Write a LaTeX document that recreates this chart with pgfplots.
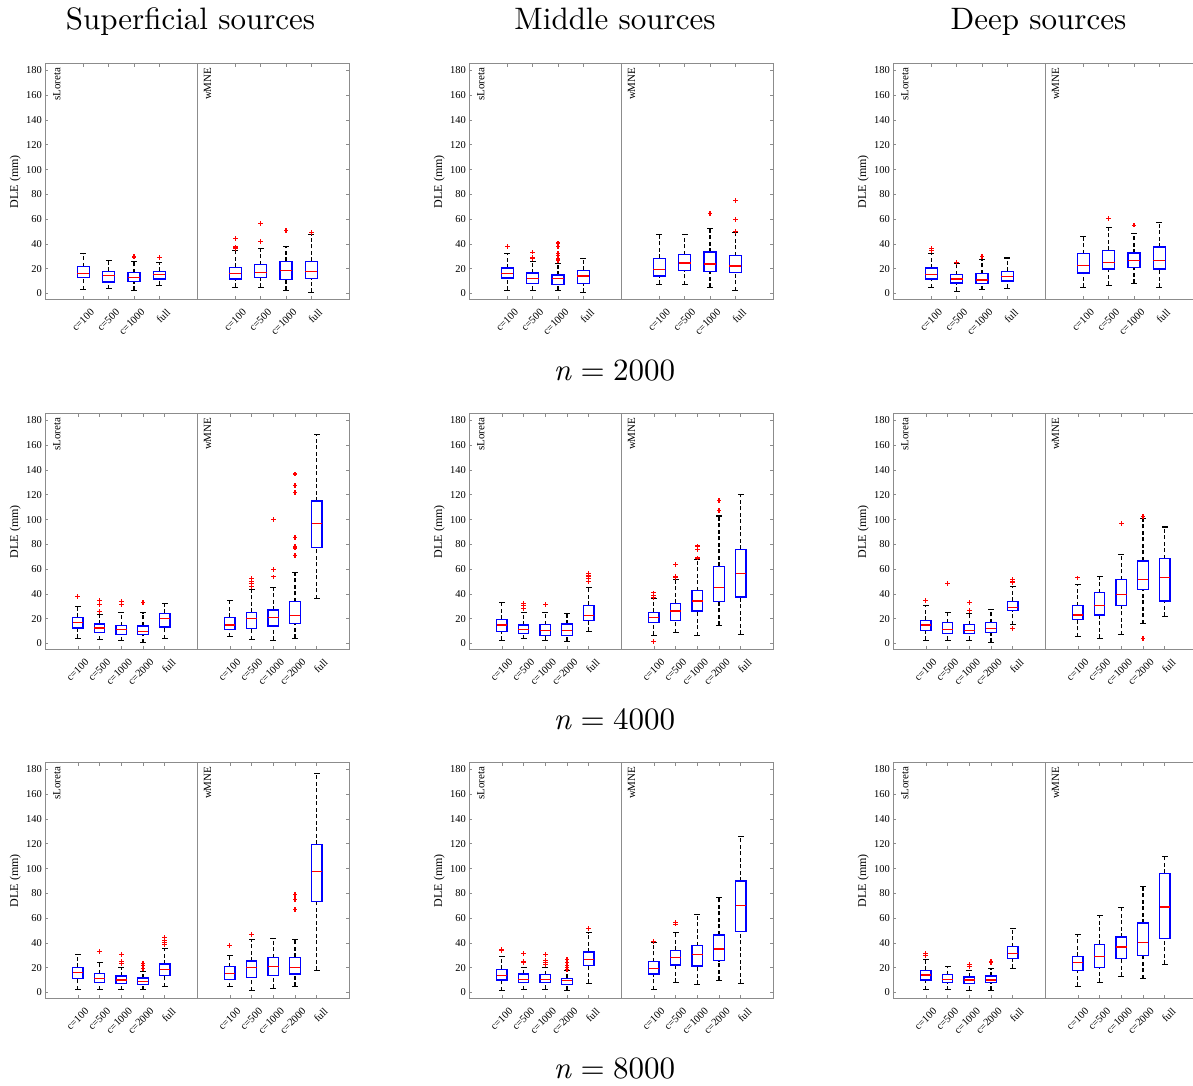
\documentclass[border=0pt]{standalone}
\usepackage{fontspec}
\usepackage{pgfplots}
\pgfplotsset{compat=1.18}
\newfontfamily\tnr{Liberation Serif}
\newfontfamily\lmten{lmroman10-regular.otf}[ItalicFont=lmroman10-italic.otf]
\definecolor{axgray}{gray}{0.55}
\definecolor{dummyc}{rgb}{0.31,0.77,0.13}
\newcommand\capn[1]{\lmten\fontsize{31}{36}\selectfont\textit{n}\hspace{0.278em}=\hspace{0.278em}#1}
\tikzset{meth/.style={rotate=90, anchor=north east, inner sep=0pt, font=\tnr\fontsize{11}{13}\selectfont},
 fixc/.style={/utils/exec={\pgfsetstrokecolor{dummyc}}}}

\pgfplotsset{
 panel/.style={
  scale only axis, width=304pt, height=235.5pt, anchor=south west,
  ymin=-4.7, ymax=185.4, ytick={0,20,...,180},
  axis line style={fixc, draw=axgray, line width=0.7pt},
  tick style={fixc, draw=axgray, line width=0.7pt},
  major tick length=3pt,
  tick align=inside,
  /pgf/number format/assume math mode=true,
  ticklabel style={font=\tnr\fontsize{10.5}{12}\selectfont},
  xticklabel style={xshift=6.5pt, yshift=-8.5pt, rotate=45, anchor=north east, inner sep=0pt},
  ylabel={DLE (mm)},
  every axis y label/.style={at={(axis description cs:-0.099,0.5)}, rotate=90, anchor=center, font=\tnr\fontsize{12}{14}\selectfont},
  unbounded coords=jump,
 },
 panelA/.style={panel, xmin=-0.5, xmax=11.5, xtick={1,2,3,4,7,8,9,10},
  xticklabels={{c=100},{c=500},{c=1000},{full},{c=100},{c=500},{c=1000},{full}},
  bxl/.style={xshift=-6.1pt}, bxr/.style={xshift=6.1pt},
  capx/.style={error bars/x fixed=0.118}, olx/.style={error bars/x fixed=0.095}},
 panelB/.style={panel, xmin=-0.5, xmax=13.5, xtick={1,2,3,4,5,8,9,10,11,12},
  xticklabels={{c=100},{c=500},{c=1000},{c=2000},{full},{c=100},{c=500},{c=1000},{c=2000},{full}},
  bxl/.style={xshift=-5.2pt}, bxr/.style={xshift=5.2pt},
  capx/.style={error bars/x fixed=0.138}, olx/.style={error bars/x fixed=0.11}},
 whisk/.style={fixc, draw=black, line width=1.1pt, dash pattern=on 4pt off 2.5pt, mark=none},
 boxv/.style={fixc, draw=blue, line width=1.3pt, line cap=rect, mark=none},
 hb/.style={draw=none, mark=none, error bars/x dir=both, error bars/error mark=none},
 boxh/.style={hb, error bars/x fixed=0.24, error bars/error bar style={fixc, draw=blue, line width=1.3pt, line cap=rect}},
 medh/.style={hb, error bars/x fixed=0.24, error bars/error bar style={fixc, draw=red, line width=1.3pt}},
 caps/.style={hb, capx, error bars/error bar style={fixc, draw=black, line width=1.1pt}},
 outl/.style={hb, olx, error bars/y dir=both, error bars/y fixed=1.94, error bars/error bar style={fixc, draw=red, line width=1.1pt}},
}

% box: position, lower whisker, lower quartile, median, upper quartile, upper whisker
\newcommand\bx[6]{%
 \addplot[whisk] coordinates {(#1,#2) (#1,#3) (#1,nan) (#1,#5) (#1,#6)};
 \addplot[boxv, bxl] coordinates {(#1,#3) (#1,#5)};
 \addplot[boxv, bxr] coordinates {(#1,#3) (#1,#5)};
 \addplot[boxh] coordinates {(#1,#3) (#1,#5)};
 \addplot[medh] coordinates {(#1,#4)};
 \addplot[caps] coordinates {(#1,#2) (#1,#6)};
}
\newcommand\ol[1]{\addplot[outl] coordinates {#1};}
\newcommand\sepA{\addplot[fixc, draw=axgray, line width=0.7pt, mark=none] coordinates {(5.5,-4.7) (5.5,185.4)};
 \node[meth] at (axis cs:-0.196,182.5) {sLoreta};
 \node[meth] at (axis cs:5.75,182.5) {wMNE};}
\newcommand\sepB{\addplot[fixc, draw=axgray, line width=0.7pt, mark=none] coordinates {(6.5,-4.7) (6.5,185.4)};
 \node[meth] at (axis cs:-0.145,182.5) {sLoreta};
 \node[meth] at (axis cs:6.79,182.5) {wMNE};}

\begin{document}
\begin{tikzpicture}
\useasboundingbox (0pt,0pt) rectangle (1193pt,1086pt);

% ---------------- Row 1 : n = 2000 ----------------
\begin{axis}[panelA, at={(45.3pt,786.7pt)}]
\sepA
\bx{1}{3.2}{12.9}{15.9}{21.6}{32.1}
\bx{2}{3.8}{9.2}{14.3}{17.8}{26.9}
\bx{3}{2.4}{9.4}{12.9}{16.7}{25.5} \ol{(3,30.2) (3,29.4)}
\bx{4}{6.5}{11.6}{15.1}{17.8}{25} \ol{(4,29.1)}
\bx{7}{4.9}{11.6}{16.2}{21}{34.5} \ol{(7,44.5) (7,37.5) (7,36.6)}
\bx{8}{4.9}{12.7}{17}{23.2}{36.6} \ol{(8,56.3) (8,41.8)}
\bx{9}{2.4}{11}{18.3}{25.9}{37.7} \ol{(9,50.7)}
\bx{10}{1.1}{11.9}{17.5}{25.9}{47.4} \ol{(10,49.3)}
\end{axis}

\begin{axis}[panelA, at={(469.3pt,786.7pt)}]
\sepA
\bx{1}{2.7}{12.4}{16.2}{20.5}{32.3} \ol{(1,38)}
\bx{2}{2.7}{8.1}{11.9}{16.4}{26} \ol{(2,33.4) (2,29.1) (2,28)}
\bx{3}{2.7}{7.5}{11.9}{14.8}{24.5} \ol{(3,40.7) (3,38) (3,32.3) (3,31) (3,27.8) (3,26.7)}
\bx{4}{0.8}{8.1}{14}{18.6}{28.3}
\bx{7}{7.5}{14}{19.4}{28.3}{47.7}
\bx{8}{7}{18.6}{24.5}{31.3}{47.7}
\bx{9}{5.1}{18}{23.7}{33.4}{52.5} \ol{(9,64.4)}
\bx{10}{2.2}{17.2}{22.1}{30.4}{49} \ol{(10,75.2) (10,59.8) (10,50.1)}
\end{axis}

\begin{axis}[panelA, at={(893.3pt,786.7pt)}]
\sepA
\bx{1}{4.6}{11.6}{15.1}{20.5}{32.3} \ol{(1,36.1) (1,34.8)}
\bx{2}{1.9}{8.4}{11.6}{15.1}{24} \ol{(2,25.3)}
\bx{3}{3.2}{7.8}{10.8}{15.9}{27.5} \ol{(3,29.6)}
\bx{4}{4.3}{10}{13.7}{17.8}{28.6}
\bx{7}{4.9}{16.4}{22.4}{32.1}{45.8}
\bx{8}{6.7}{19.7}{25.1}{34.8}{53.4} \ol{(8,60.6)}
\bx{9}{8.4}{20.7}{26.7}{32.6}{48.2} \ol{(9,55.2)}
\bx{10}{4.9}{19.7}{26.7}{37.5}{57.1}
\end{axis}

% ---------------- Row 2 : n = 4000 ----------------
\begin{axis}[panelB, at={(45.3pt,436.7pt)}]
\sepB
\bx{1}{4.3}{12.6}{16.7}{21.2}{29.6} \ol{(1,37.6)}
\bx{2}{3.2}{9.1}{12.4}{15.6}{23.4} \ol{(2,34.7) (2,31.2) (2,26.1)}
\bx{3}{2.1}{7.5}{11}{14.5}{25.3} \ol{(3,34.1) (3,31.7)}
\bx{4}{0.5}{7}{9.7}{14.2}{25} \ol{(4,32.8)}
\bx{5}{3.8}{13.4}{19.9}{24.4}{32.2}
\bx{8}{5.4}{11.3}{14.8}{21.2}{34.9}
\bx{9}{3.2}{12.1}{19.9}{25}{43.5} \ol{(9,52.4) (9,50.2) (9,48.4) (9,45.7)}
\bx{10}{2.7}{14}{21.2}{26.9}{44.9} \ol{(10,100) (10,59.6) (10,53.7)}
\bx{11}{4.3}{16.1}{22.8}{33.6}{57} \ol{(11,136.8) (11,127.4) (11,121.7) (11,85.7) (11,78.2) (11,77.1) (11,71.2)}
\bx{12}{36}{77.6}{97}{115}{169}
\end{axis}

\begin{axis}[panelB, at={(469.3pt,436.7pt)}]
\sepB
\bx{1}{2.7}{9.9}{15}{19.6}{33}
\bx{2}{4}{8.1}{11}{14.8}{24.7} \ol{(2,32.5) (2,30.4) (2,28.2)}
\bx{3}{2.7}{6.7}{10.2}{15.3}{25.3} \ol{(3,31.2)}
\bx{4}{1.6}{6.4}{10.5}{15.6}{24.2}
\bx{5}{9.7}{18.5}{22.3}{30.9}{45} \ol{(5,56.4) (5,54.5) (5,52.4) (5,49.7)}
\bx{8}{6.7}{16.9}{21.2}{25}{36.3} \ol{(8,40.8) (8,39) (8,37.1) (8,1.9)}
\bx{9}{8.6}{18.8}{26.1}{32.5}{51.9} \ol{(9,63.9) (9,54.3) (9,52.9)}
\bx{10}{6.4}{26.1}{34.4}{42.7}{67.7} \ol{(10,78.7) (10,75.5) (10,69)}
\bx{11}{14.8}{33.6}{45.1}{62.3}{102.9} \ol{(11,115.3) (11,107.5)}
\bx{12}{7.5}{37.6}{56.7}{76}{120.1}
\end{axis}

\begin{axis}[panelB, at={(893.3pt,436.7pt)}]
\sepB
\bx{1}{2.7}{10.7}{14.8}{18.8}{30.4} \ol{(1,34.7)}
\bx{2}{2.7}{8.3}{11.3}{16.7}{24.7} \ol{(2,48.4)}
\bx{3}{2.7}{8.1}{10.7}{15.3}{24.2} \ol{(3,32.8) (3,26.3)}
\bx{4}{0.8}{8.9}{12.1}{16.7}{27.7}
\bx{5}{15}{26.6}{29}{34.1}{45.7} \ol{(5,51.9) (5,50.2) (5,48.9) (5,12.1)}
\bx{8}{5.4}{19.1}{23.1}{30.6}{47.8} \ol{(8,52.9)}
\bx{9}{4.3}{23.1}{30.9}{41.1}{53.7}
\bx{10}{7}{30.9}{39.5}{51.6}{71.5} \ol{(10,96.7)}
\bx{11}{16.1}{43.3}{51.9}{66.6}{100.7} \ol{(11,102.6) (11,3.8)}
\bx{12}{22}{34.4}{53.2}{68.5}{94}
\end{axis}

% ---------------- Row 3 : n = 8000 ----------------
\begin{axis}[panelB, at={(45.3pt,87.7pt)}]
\sepB
\bx{1}{2.4}{11.3}{16.1}{20.2}{30.4}
\bx{2}{2.4}{8.3}{11.3}{15.1}{23.9} \ol{(2,33.1)}
\bx{3}{2.4}{7.3}{10}{13.2}{20.2} \ol{(3,30.7) (3,24.8) (3,23.7)}
\bx{4}{2.4}{6.7}{9.1}{11.8}{17} \ol{(4,23.4) (4,22.1) (4,19.6)}
\bx{5}{4.6}{13.5}{18.8}{22.9}{35.5} \ol{(5,44.1) (5,42.2) (5,40.6) (5,38.7)}
\bx{8}{4.6}{10.5}{15.6}{20.7}{29.9} \ol{(8,38.2)}
\bx{9}{1.3}{12.1}{20.2}{25.3}{42.8} \ol{(9,47.1)}
\bx{10}{3.5}{13.5}{20.7}{28.2}{43.3}
\bx{11}{5.1}{14.8}{20.2}{28.5}{42.8} \ol{(11,79.1) (11,75.3) (11,67.3)}
\bx{12}{17.8}{73.7}{97.4}{119.7}{176.5}
\end{axis}

\begin{axis}[panelB, at={(469.3pt,87.7pt)}]
\sepB
\bx{1}{1.3}{10}{13.5}{18.6}{28.8} \ol{(1,35) (1,33.6)}
\bx{2}{2.2}{8.1}{10.5}{14.8}{20} \ol{(2,31.7) (2,25.3) (2,24.3)}
\bx{3}{2.7}{8.1}{10.2}{14.3}{20.2} \ol{(3,30.7) (3,26.1) (3,24.5) (3,22.9)}
\bx{4}{1.6}{6.7}{9.4}{11.3}{17.5} \ol{(4,26.9) (4,24.2) (4,22.1) (4,20.2) (4,18.8)}
\bx{5}{7.5}{21.5}{26.4}{32.6}{48.4} \ol{(5,51.7)}
\bx{8}{2.2}{14.8}{19.1}{24.8}{40.1} \ol{(8,41.4)}
\bx{9}{8.3}{22.1}{28.2}{33.9}{48.2} \ol{(9,56.5) (9,55.2)}
\bx{10}{6.5}{21.3}{30.7}{37.9}{62.7}
\bx{11}{9.7}{25.8}{35.2}{46.5}{76.7}
\bx{12}{7.5}{49.2}{70}{89.9}{125.6}
\end{axis}

\begin{axis}[panelB, at={(893.3pt,87.7pt)}]
\sepB
\bx{1}{2.4}{10}{14}{18}{26.6} \ol{(1,31.5) (1,29.9)}
\bx{2}{2.2}{7.8}{10.5}{14.3}{20.7}
\bx{3}{1.9}{7.3}{10}{12.6}{18} \ol{(3,22.3) (3,21)}
\bx{4}{1.6}{7.8}{10}{13.2}{19.4} \ol{(4,25) (4,23.9)}
\bx{5}{19.4}{27.2}{31.5}{36.9}{51.4}
\bx{8}{5.1}{17.5}{24.2}{29.3}{46.5}
\bx{9}{8.3}{20.4}{29.1}{39}{61.9}
\bx{10}{12.9}{27.2}{36.6}{44.7}{68.6}
\bx{11}{11}{29.6}{40.1}{56}{85.8}
\bx{12}{22.6}{43.3}{69.1}{96.3}{110}
\end{axis}

% ---------------- titles and captions ----------------
\node[anchor=base] at (190.5pt,1056.7pt) {\lmten\fontsize{31}{36}\selectfont Superficial sources};
\node[anchor=base] at (615pt,1056.7pt) {\lmten\fontsize{31}{36}\selectfont Middle sources};
\node[anchor=base] at (1038.5pt,1056.7pt) {\lmten\fontsize{31}{36}\selectfont Deep sources};
\node[anchor=base] at (614.5pt,705.5pt) {\capn{2000}};
\node[anchor=base] at (614.5pt,356.5pt) {\capn{4000}};
\node[anchor=base] at (614.5pt,7pt) {\capn{8000}};
\end{tikzpicture}
\end{document}
